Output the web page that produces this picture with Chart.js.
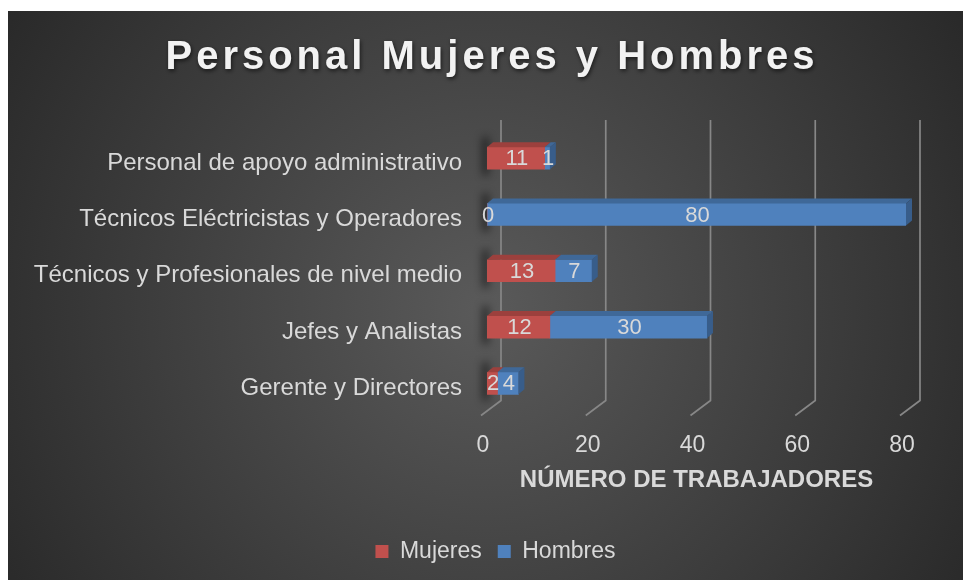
<!DOCTYPE html>
<html>
<head>
<meta charset="utf-8">
<script src="https://cdn.jsdelivr.net/npm/chart.js@4/dist/chart.umd.min.js"></script>
<style>
  html, body { margin: 0; padding: 0; background: #fff; }
  #wrap { width: 963px; height: 580px; }
</style>
</head>
<body>
<div id="wrap"><canvas id="myChart" width="963" height="580"></canvas></div>
<script>
// data
const categories = [
  'Personal de apoyo administrativo',
  'Técnicos Eléctricistas y Operadores',
  'Técnicos y Profesionales de nivel medio',
  'Jefes y Analistas',
  'Gerente y Directores'
];
const mujeres = [11, 0, 13, 12, 2];
const hombres = [1, 80, 7, 30, 4];
const xTicks = [0, 20, 40, 60, 80];
const seriesNames = ['Mujeres', 'Hombres'];
const chartTitle = 'Personal Mujeres y Hombres';
const axisTitle = 'NÚMERO DE TRABAJADORES';

const txt = '#d9d9d9';
const fam = '"Liberation Sans", Arial, sans-serif';
const fronts = ['#c0504d', '#4f81bd'];
const tops = ['#9c403d', '#3f6898'];
const sides = ['#9a3f3c', '#385d8a'];
const depth = { dx: 6, dy: -5 };

// fondo, titulo, rejilla 3d, caras de las barras y etiquetas
const look3d = {
  id: 'look3d',
  beforeDraw(chart) {
    const c = chart.ctx;
    c.save();
    c.fillStyle = '#ffffff';
    c.fillRect(0, 0, chart.width, chart.height);
    const g = c.createRadialGradient(485, 310, 0, 485, 310, 600);
    g.addColorStop(0, '#5a5a5a');
    g.addColorStop(1, '#262626');
    c.fillStyle = g;
    c.fillRect(8, 11, chart.width - 8, chart.height - 11);

    c.font = 'bold 40px ' + fam;
    if ('letterSpacing' in c) c.letterSpacing = '4px';
    c.textAlign = 'center';
    c.textBaseline = 'middle';
    c.shadowColor = 'rgba(0,0,0,0.6)';
    c.shadowBlur = 4;
    c.shadowOffsetX = 1;
    c.shadowOffsetY = 2;
    c.fillStyle = '#f2f2f2';
    c.fillText(chartTitle, 492, 58);
    c.restore();
  },
  beforeDatasetsDraw(chart) {
    const c = chart.ctx;
    const xs = chart.scales.x;
    const area = chart.chartArea;
    c.save();
    c.strokeStyle = '#878787';
    c.lineWidth = 1.7;
    xTicks.forEach(v => {
      const px = xs.getPixelForValue(v);
      c.beginPath();
      c.moveTo(px + 14, area.top - 10);
      c.lineTo(px + 14, area.bottom - 11);
      c.lineTo(px - 6, area.bottom + 4);
      c.stroke();
    });
    // sombra a la izquierda de cada barra
    const meta = chart.getDatasetMeta(0);
    c.filter = 'blur(4px)';
    c.fillStyle = 'rgba(0,0,0,0.7)';
    meta.data.forEach(el => {
      const h = el.height;
      c.fillRect(el.base - 4, el.y - h / 2 - 10, 5, h + 16);
    });
    c.restore();
  },
  afterDatasetsDraw(chart) {
    const c = chart.ctx;
    const sets = [mujeres, hombres];
    c.save();
    sets.forEach((vals, di) => {
      const meta = chart.getDatasetMeta(di);
      meta.data.forEach((el, j) => {
        const x0 = Math.min(el.base, el.x), x1 = Math.max(el.base, el.x);
        const yT = el.y - el.height / 2, yB = el.y + el.height / 2;
        if (x1 - x0 > 0.5) {
          c.fillStyle = tops[di];
          c.beginPath();
          c.moveTo(x0, yT);
          c.lineTo(x0 + depth.dx, yT + depth.dy);
          c.lineTo(x1 + depth.dx, yT + depth.dy);
          c.lineTo(x1, yT);
          c.closePath();
          c.fill();
        }
        // cara lateral solo en el ultimo tramo no nulo
        let last = -1;
        sets.forEach((s, k) => { if (s[j] > 0) last = k; });
        if (last === di) {
          c.fillStyle = sides[di];
          c.beginPath();
          c.moveTo(x1, yT);
          c.lineTo(x1 + depth.dx, yT + depth.dy);
          c.lineTo(x1 + depth.dx, yB + depth.dy);
          c.lineTo(x1, yB);
          c.closePath();
          c.fill();
        }
      });
    });
    c.font = '22px ' + fam;
    c.fillStyle = txt;
    c.textAlign = 'center';
    c.textBaseline = 'middle';
    sets.forEach((vals, di) => {
      const meta = chart.getDatasetMeta(di);
      meta.data.forEach((el, j) => {
        c.fillText(String(vals[j]), (el.x + el.base) / 2 + 1, el.y + 1);
      });
    });
    c.restore();
  }
};

const ctx = document.getElementById('myChart').getContext('2d');
new Chart(ctx, {
  type: 'bar',
  data: {
    labels: categories,
    datasets: [
      { label: seriesNames[0], data: mujeres, backgroundColor: fronts[0], barThickness: 22 },
      { label: seriesNames[1], data: hombres, backgroundColor: fronts[1], barThickness: 22 }
    ]
  },
  options: {
    responsive: false,
    animation: false,
    indexAxis: 'y',
    layout: { padding: { top: 130, right: 0, left: 28, bottom: 7 } },
    scales: {
      x: {
        stacked: true,
        min: 0,
        max: 80,
        afterBuildTicks: s => { s.ticks = xTicks.map(v => ({ value: v })); },
        afterFit: s => { s.height = 112.5; },
        grid: { display: false, drawTicks: false },
        border: { display: false },
        ticks: {
          color: txt,
          font: { size: 23, family: fam },
          padding: 20,
          labelOffset: -4
        },
        title: {
          display: true,
          text: axisTitle,
          color: txt,
          font: { size: 24, weight: 'bold', family: fam },
          padding: { top: 0, bottom: 29 }
        }
      },
      y: {
        stacked: true,
        afterFit: s => { s.width = 459; },
        grid: { display: false, drawTicks: false },
        border: { display: false },
        ticks: {
          color: txt,
          font: { size: 24, family: fam },
          padding: 25,
          labelOffset: 5
        }
      },
      y2: {
        position: 'right',
        afterFit: s => { s.width = 57; },
        grid: { display: false, drawTicks: false },
        border: { display: false },
        ticks: { display: false }
      }
    },
    plugins: {
      title: { display: false },
      tooltip: { enabled: false },
      legend: {
        position: 'bottom',
        labels: {
          color: txt,
          boxWidth: 13,
          boxHeight: 13,
          padding: 16,
          font: { size: 23, family: fam }
        }
      }
    }
  },
  plugins: [look3d]
});
</script>
</body>
</html>
